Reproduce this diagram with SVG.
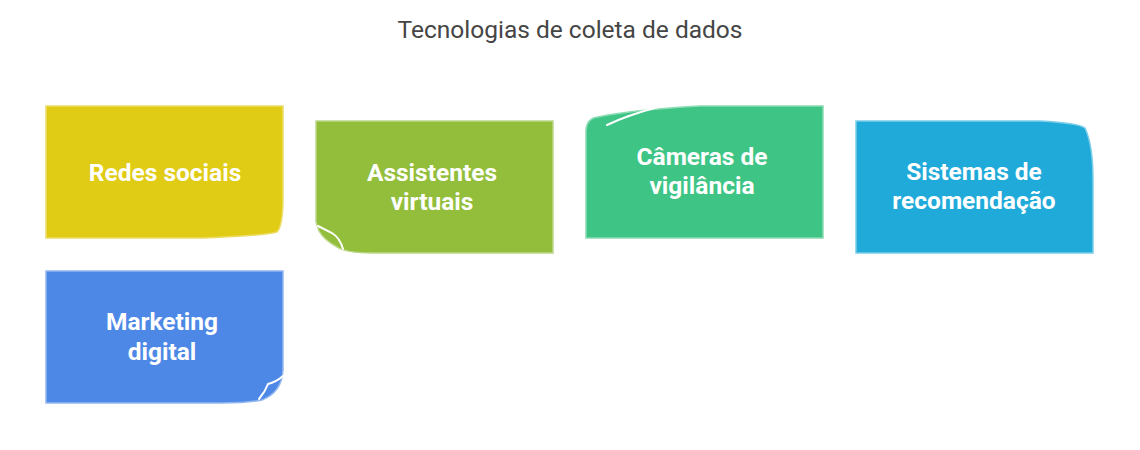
<svg xmlns="http://www.w3.org/2000/svg" width="1140" height="450" viewBox="0 0 1140 450">
<style>
.title{font-family:Roboto,"Liberation Sans",sans-serif;font-size:24.5px;fill:#454545;text-anchor:middle}
.lbl{font-family:Roboto,"Liberation Sans",sans-serif;font-size:24.5px;font-weight:bold;fill:#ffffff;text-anchor:middle}
.fold{fill:none;stroke:#ffffff;stroke-width:2;stroke-linecap:round}
</style>
<rect width="1140" height="450" fill="#ffffff"/>
<text class="title" x="570" y="38">Tecnologias de coleta de dados</text>
<g id="node-redes">
<path d="M46,106 H283 V198 Q283,226 277,232 Q262,236 205,238 H46 Z" fill="#E0CB15" stroke="#ECDD6A" stroke-width="1.5"/>
<text class="lbl" x="165" y="181">Redes sociais</text>
</g>
<g id="node-assistentes">
<path d="M316,121 H553 V253 H372 Q346,253 337,247 Q324,240 319,231 L316,222 Z" fill="#92BE3B" stroke="#BCD88A" stroke-width="1.5"/>
<path class="fold" d="M318,226 L332,233 Q340,238 343,249"/>
<text class="lbl" x="432" y="181">Assistentes</text>
<text class="lbl" x="432" y="210">virtuais</text>
</g>
<g id="node-cameras">
<path d="M823,106 V238 H586 V130 Q587,118 598,117 Q630,110 700,106 Z" fill="#3EC585" stroke="#8ADCB3" stroke-width="1.5"/>
<path class="fold" d="M607,125 Q628,115 658,107"/>
<text class="lbl" x="702" y="165">Câmeras de</text>
<text class="lbl" x="702" y="194">vigilância</text>
</g>
<g id="node-sistemas">
<path d="M856,121 H1040 Q1078,123 1085,128 Q1093,145 1093,180 V253 H856 Z" fill="#1FAAD9" stroke="#7CCDEA" stroke-width="1.5"/>
<text class="lbl" x="974" y="180">Sistemas de</text>
<text class="lbl" x="974" y="209">recomendação</text>
</g>
<g id="node-marketing">
<path d="M46,271 H283 V370 Q282,392 262,400 Q248,403 222,403 H46 Z" fill="#4D88E6" stroke="#92B7F0" stroke-width="1.5"/>
<path class="fold" d="M283,376 Q276,382 268,384 Q265,392 259,399"/>
<text class="lbl" x="162" y="330">Marketing</text>
<text class="lbl" x="162" y="360">digital</text>
</g>
<g id="connectors"></g>
</svg>
